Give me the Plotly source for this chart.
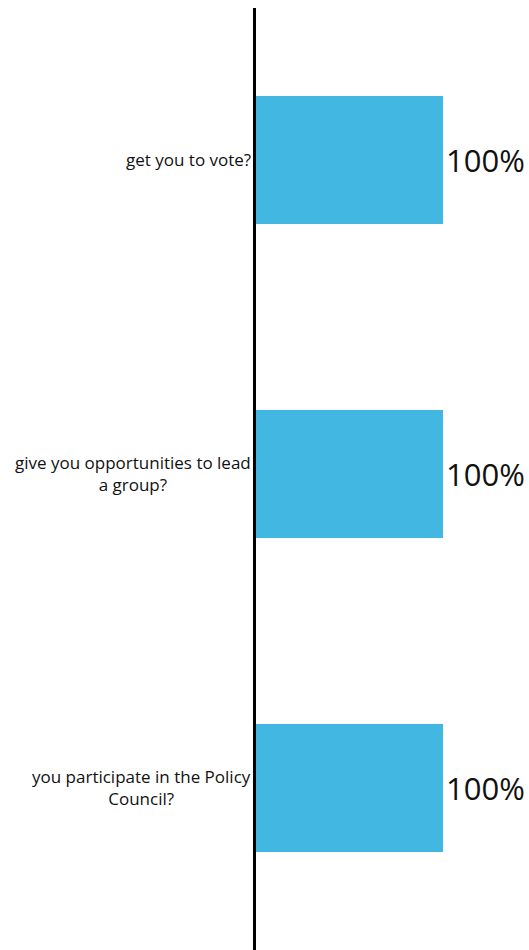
import plotly.graph_objects as go

categories = ["get you to vote?", "give you opportunities to lead<br>a group?", "you participate in the Policy<br>Council?"]
values = [100, 100, 100]
labels = ["100%", "100%", "100%"]
positions = [0, 1, 2]

fig = go.Figure()
fig.add_trace(go.Bar(
    x=values, y=positions, orientation="h", width=0.408,
    marker=dict(color="#41B7E1", line=dict(width=0)),
    text=labels, textposition="outside", cliponaxis=False,
    textfont=dict(family="Open Sans", size=31, color="#111111"),
    hoverinfo="skip",
))

for p, c in zip(positions, categories):
    fig.add_annotation(x=0, y=p, xref="paper", yref="y", text=c, showarrow=False,
                       xanchor="right", yanchor="middle", align="center", xshift=-3,
                       font=dict(family="Open Sans", size=17, color="#111111"))

fig.update_layout(
    width=529, height=950, margin=dict(l=256, r=86, t=8, b=0),
    paper_bgcolor="white", plot_bgcolor="white", showlegend=False,
    xaxis=dict(range=[0, 100], visible=False, fixedrange=True),
    yaxis=dict(range=[2.516, -0.484], showticklabels=False, showgrid=False, zeroline=False,
               showline=True, linewidth=3, linecolor="black", ticks=""),
)
fig.write_html("out.html")
